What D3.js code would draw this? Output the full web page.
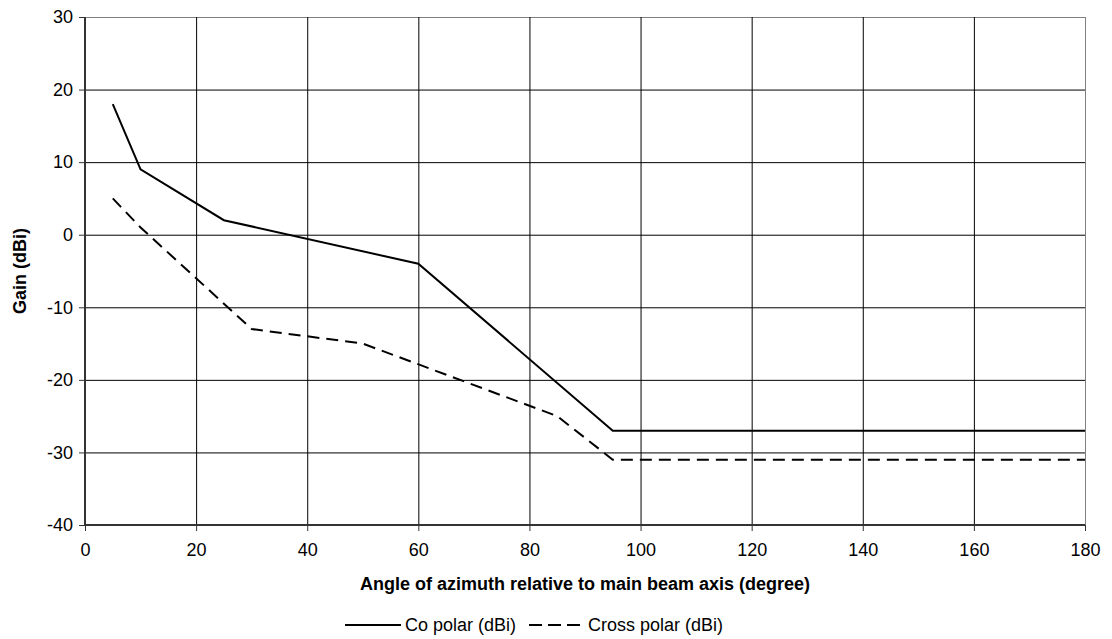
<!DOCTYPE html>
<html><head><meta charset="utf-8">
<script src="https://cdn.jsdelivr.net/npm/d3@7"></script>
<style>body{margin:0;background:#fff}svg{display:block}text{font-family:"Liberation Sans",Arial,sans-serif;fill:#000}</style>
</head><body><svg id="c" width="1112" height="639"></svg>
<script>
const coAngles = [5, 10, 25, 60, 95, 180];
const coGain = [18, 9, 2, -4, -27, -27];
const crossAngles = [5, 10, 30, 50, 85, 95, 180];
const crossGain = [5, 1, -13, -15, -25, -31, -31];
const xTicks = [0, 20, 40, 60, 80, 100, 120, 140, 160, 180];
const yTicks = [30, 20, 10, 0, -10, -20, -30, -40];
const seriesNames = ["Co polar (dBi)", "Cross polar (dBi)"];

const svg = d3.select("#c");
const m = {l: 85, r: 1085, t: 17, b: 525};
const x = d3.scaleLinear().domain([0, 180]).range([m.l, m.r]);
const y = d3.scaleLinear().domain([-40, 30]).range([m.b, m.t]);
const fs = 18;
const fmt = d => String(d);

// gridlines
svg.append("g").selectAll("line").data(yTicks).join("line")
  .attr("x1", m.l).attr("x2", m.r).attr("y1", d => y(d) + 0.5).attr("y2", d => y(d) + 0.5)
  .attr("stroke", d => d === 30 ? "#808080" : "#000").attr("stroke-width", 1);
svg.append("g").selectAll("line").data(xTicks).join("line")
  .attr("y1", m.t).attr("y2", m.b).attr("x1", d => x(d) + 0.5).attr("x2", d => x(d) + 0.5)
  .attr("stroke", d => d === 180 ? "#808080" : "#000").attr("stroke-width", 1);

// axes
const yAxis = svg.append("g").attr("transform", `translate(${m.l},0)`)
  .call(d3.axisLeft(y).tickValues(yTicks).tickFormat(fmt).tickSize(6).tickPadding(6));
const xAxis = svg.append("g").attr("transform", `translate(0,${m.b})`)
  .call(d3.axisBottom(x).tickValues(xTicks).tickFormat(fmt).tickSize(6).tickPadding(12));
[yAxis, xAxis].forEach(a => {
  a.select(".domain").attr("stroke", "#333").attr("stroke-width", 2);
  a.selectAll(".tick line").attr("stroke", "#333");
  a.selectAll("text").attr("font-size", fs).attr("font-family", "Liberation Sans, Arial, sans-serif").attr("fill", "#000");
});
yAxis.select(".domain").attr("d", `M0,${m.t}V${m.b}`);
xAxis.select(".domain").attr("d", `M${m.l},0H${m.r}`);

// lines
const line = d3.line().x(d => x(d[0])).y(d => y(d[1]));
const coData = coAngles.map((a, i) => [a, coGain[i]]);
const crossData = crossAngles.map((a, i) => [a, crossGain[i]]);
svg.append("path").datum(coData).attr("d", line).attr("fill", "none").attr("stroke", "#000").attr("stroke-width", 2);
svg.append("path").datum(crossData).attr("d", line).attr("fill", "none").attr("stroke", "#000").attr("stroke-width", 2).attr("stroke-dasharray", "12,7");

// titles
svg.append("text").attr("x", (m.l + m.r) / 2).attr("y", 590).attr("text-anchor", "middle")
  .attr("font-size", fs).attr("font-weight", "bold").text("Angle of azimuth relative to main beam axis (degree)");
svg.append("text").attr("transform", `translate(26,${(m.t + m.b) / 2}) rotate(-90)`).attr("text-anchor", "middle")
  .attr("font-size", fs).attr("font-weight", "bold").text("Gain (dBi)");

// legend
const lg = svg.append("g");
lg.append("line").attr("x1", 345).attr("x2", 401).attr("y1", 625).attr("y2", 625).attr("stroke", "#000").attr("stroke-width", 2);
lg.append("text").attr("x", 405).attr("y", 631).attr("font-size", fs).text(seriesNames[0]);
lg.append("line").attr("x1", 529).attr("x2", 581).attr("y1", 625).attr("y2", 625).attr("stroke", "#000").attr("stroke-width", 2).attr("stroke-dasharray", "13,6");
lg.append("text").attr("x", 588).attr("y", 631).attr("font-size", fs).text(seriesNames[1]);
</script></body></html>
